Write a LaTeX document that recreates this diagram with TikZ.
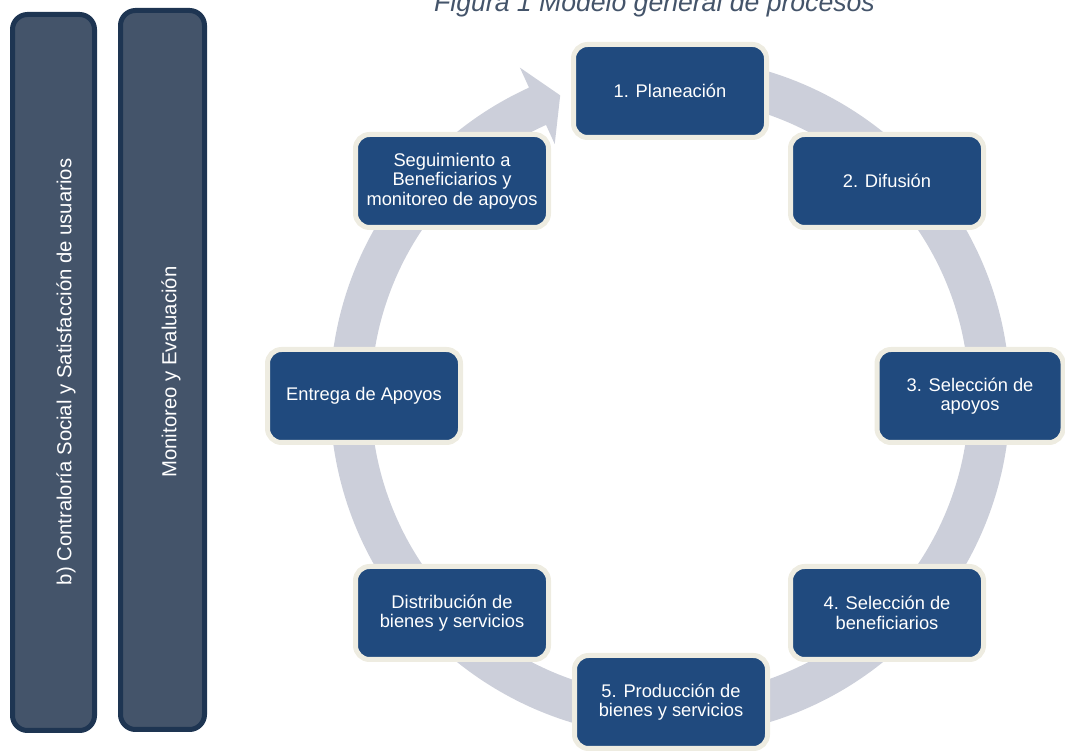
\documentclass[tikz,border=0pt]{standalone}
\usepackage{fontspec}
\setmainfont{Liberation Sans}
\definecolor{procblue}{RGB}{32,74,126}
\definecolor{cream}{RGB}{238,236,225}
\definecolor{band}{RGB}{204,207,218}
\definecolor{barfill}{RGB}{68,84,106}
\definecolor{barline}{RGB}{30,53,82}
\definecolor{titlecol}{RGB}{68,84,106}
\tikzset{
  proc/.style={rounded corners=14pt, fill=procblue, draw=cream, line width=5pt,
    minimum width=193pt, minimum height=93pt, text=white, align=center,
    font=\fontsize{18.3}{19.5}\selectfont, inner sep=2pt},
  sidebar/.style={rounded corners=15pt, fill=barfill, draw=barline, line width=5pt, inner sep=0pt},
  sidetext/.style={rotate=90, text=white, font=\fontsize{20.3}{22}\selectfont, inner sep=0pt},
  ring/.style={fill=band, draw=none}
}
\begin{document}
\begin{tikzpicture}[x=1pt,y=1pt]
\useasboundingbox (0,0) rectangle (1065,751);
\clip (0,0) rectangle (1065,751);

% title
\node[anchor=base east, text=titlecol, font=\fontsize{26.6}{30}\selectfont\itshape, inner sep=0pt] (title) at (875,739) {Figura 1 Modelo general de procesos};

% side bars
\node[sidebar, minimum width=82pt, minimum height=716pt] (bar1) at (53.5,378.5) {};
\node[sidebar, minimum width=84pt, minimum height=719pt] (bar2) at (162.5,381) {};
\node[sidetext] (t1) at (66,379) {b) Contraloría Social y Satisfacción de usuarios};
\node[sidetext] (t2) at (171,379) {Monitoreo y Evaluación};

% circular arrow
\begin{scope}[shift={(670,354)}]
\fill[band] (100:340) arc[start angle=100, end angle=-245.5, radius=340]
  -- (114.5:362) -- (110:321) -- (114.5:278) -- (114.5:299)
  arc[start angle=114.5, end angle=460, radius=299] -- cycle;
\end{scope}

% process nodes
\node[proc] (n1) at (670,660) {1. Planeación};
\node[proc] (n2) at (887,570) {2. Difusión};
\node[proc, minimum width=186pt] (n3) at (970,355) {3. Selección de\\apoyos};
\node[proc] (n4) at (887,138) {4. Selección de\\beneficiarios};
\node[proc] (n5) at (671,49) {5. Producción de\\bienes y servicios};
\node[proc] (n6) at (452,138) {Distribución de\\bienes y servicios};
\node[proc] (n7) at (364,355) {Entrega de Apoyos};
\node[proc] (n8) at (452,570) {Seguimiento a\\Beneficiarios y\\monitoreo de apoyos};
\end{tikzpicture}
\end{document}
